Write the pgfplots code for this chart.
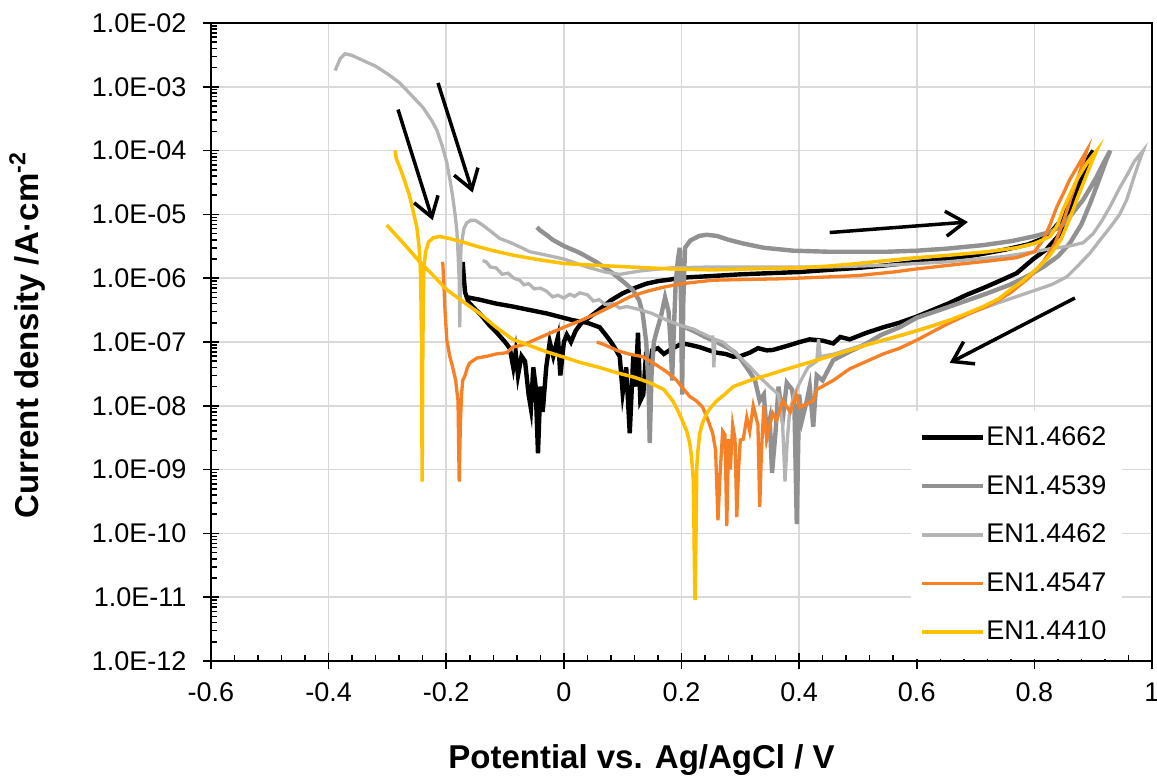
\documentclass[border=0pt]{standalone}
\usepackage{fontspec}
\setmainfont{Liberation Sans}
\usepackage{pgfplots}
\pgfplotsset{compat=1.18}
\usetikzlibrary{arrows.meta}
\definecolor{cdgray}{RGB}{145,145,145}
\definecolor{clgray}{RGB}{180,180,180}
\definecolor{corange}{RGB}{245,128,37}
\definecolor{cyellow}{RGB}{255,192,0}
\definecolor{cgrid}{RGB}{217,217,217}
\begin{document}
\begin{tikzpicture}
\begin{axis}[
  scale only axis, width=470.5pt, height=319pt,
  xmin=-0.6, xmax=1, ymode=log, ymin=1e-12, ymax=1e-2,
  xtick={-0.6,-0.4,-0.2,0,0.2,0.4,0.6,0.8,1},
  xticklabels={\mbox{-0.6},\mbox{-0.4},\mbox{-0.2},\mbox{0},\mbox{0.2},\mbox{0.4},\mbox{0.6},\mbox{0.8},\mbox{1}},
  ytick={1e-12,1e-11,1e-10,1e-9,1e-8,1e-7,1e-6,1e-5,1e-4,1e-3,1e-2},
  yticklabels={\mbox{1.0E-12},\mbox{1.0E-11},\mbox{1.0E-10},\mbox{1.0E-09},\mbox{1.0E-08},\mbox{1.0E-07},\mbox{1.0E-06},\mbox{1.0E-05},\mbox{1.0E-04},\mbox{1.0E-03},\mbox{1.0E-02}},
  minor x tick num=4,
  minor ytick={
   2e-12,3e-12,4e-12,5e-12,6e-12,7e-12,8e-12,9e-12,
   2e-11,3e-11,4e-11,5e-11,6e-11,7e-11,8e-11,9e-11,
   2e-10,3e-10,4e-10,5e-10,6e-10,7e-10,8e-10,9e-10,
   2e-9,3e-9,4e-9,5e-9,6e-9,7e-9,8e-9,9e-9,
   2e-8,3e-8,4e-8,5e-8,6e-8,7e-8,8e-8,9e-8,
   2e-7,3e-7,4e-7,5e-7,6e-7,7e-7,8e-7,9e-7,
   2e-6,3e-6,4e-6,5e-6,6e-6,7e-6,8e-6,9e-6,
   2e-5,3e-5,4e-5,5e-5,6e-5,7e-5,8e-5,9e-5,
   2e-4,3e-4,4e-4,5e-4,6e-4,7e-4,8e-4,9e-4,
   2e-3,3e-3,4e-3,5e-3,6e-3,7e-3,8e-3,9e-3},
  tick align=inside, tick pos=left,
  major tick length=4.2pt, minor tick length=3pt,
  extra x ticks={-0.6,-0.4,-0.2,0,0.2,0.4,0.6,0.8,1},
  extra x tick labels={},
  extra x tick style={tick align=outside, xmajorgrids=false, major tick length=4.2pt},
  extra y ticks={1e-12,1e-11,1e-10,1e-9,1e-8,1e-7,1e-6,1e-5,1e-4,1e-3,1e-2},
  extra y tick labels={},
  extra y tick style={tick align=outside, ymajorgrids=false, major tick length=4pt},
  xmajorgrids=true, ymajorgrids=true, xminorgrids=false, yminorgrids=false,
  major grid style={cgrid, line width=0.75pt},
  axis line style={line width=0.8pt},
  tick style={black, line width=0.75pt},
  tick label style={font=\fontsize{13.5}{16}\selectfont},
  yticklabel style={xshift=-8.8pt},
  xticklabel style={yshift=-7.5pt},
  xlabel={Potential vs. Ag/AgCl / V},
  xlabel style={font=\fontsize{16.5}{20}\selectfont\bfseries, at={(axis description cs:0.4575,0)}, anchor=base, yshift=-53.5pt},
  ylabel={Current density /A·cm\textsuperscript{-2}},
  ylabel style={font=\fontsize{16.5}{20}\selectfont\bfseries, at={(axis description cs:-0.1838,0.511)}, anchor=base, rotate=0},
  legend style={draw=none, fill=white, at={(rel axis cs:0.969,0.393)}, anchor=north east, font=\fontsize{13.5}{16}\selectfont, row sep=9.4pt, inner xsep=6pt, inner ysep=6pt},
  legend cell align=left,
  legend image code/.code={\path (0pt,0pt) -- (27.5pt,0pt); \draw[#1,overlay] (-1.5pt,0pt) -- (29pt,0pt);},
]
\coordinate (O) at (rel axis cs:0,0);

% EN1.4662 black
\addplot[black, line width=2.2pt] coordinates {
(-0.172,1.8e-6) (-0.170,1.0e-6) (-0.168,6.0e-7) (-0.162,4.2e-7) (-0.150,3.2e-7) (-0.140,2.6e-7)
(-0.128,1.9e-7) (-0.114,1.4e-7) (-0.100,1.0e-7) (-0.092,8.0e-8) (-0.086,4.0e-8) (-0.082,7.0e-8)
(-0.078,3.0e-8) (-0.072,6.0e-8) (-0.066,5.0e-8) (-0.060,1.5e-8) (-0.056,9.0e-9) (-0.052,4.0e-8)
(-0.048,2.0e-8) (-0.044,1.8e-9) (-0.040,2.0e-8) (-0.036,8.0e-9) (-0.030,4.0e-8) (-0.024,1.0e-7)
(-0.018,6.0e-8) (-0.010,1.2e-7) (-0.006,3.0e-8) (0.000,1.0e-7) (0.005,1.3e-7) (0.012,1.0e-7)
(0.020,1.5e-7) (0.030,2.0e-7) (0.045,2.5e-7) (0.060,3.2e-7) (0.080,4.5e-7) (0.100,5.8e-7)
(0.120,7.0e-7) (0.140,8.2e-7) (0.160,9.0e-7) (0.180,9.5e-7) (0.200,1.02e-6) (0.250,1.08e-6)
(0.300,1.15e-6) (0.350,1.2e-6) (0.400,1.25e-6) (0.450,1.35e-6) (0.500,1.45e-6) (0.550,1.6e-6)
(0.600,1.8e-6) (0.650,2.0e-6) (0.700,2.3e-6) (0.750,2.8e-6) (0.790,3.4e-6) (0.815,4.2e-6)
(0.830,5.5e-6) (0.845,8.0e-6) (0.860,1.6e-5) (0.872,2.8e-5) (0.883,5.0e-5) (0.893,8.0e-5)
(0.900,1.0e-4)
(0.895,8.0e-5) (0.885,4.5e-5) (0.870,2.0e-5) (0.855,8.0e-6) (0.840,4.5e-6) (0.820,2.8e-6)
(0.798,2.0e-6) (0.770,1.2e-6) (0.740,9.0e-7) (0.713,7.0e-7) (0.685,5.5e-7) (0.656,4.1e-7)
(0.628,3.2e-7) (0.600,2.5e-7) (0.570,2.0e-7) (0.543,1.7e-7) (0.515,1.4e-7) (0.486,1.1e-7)
(0.470,1.2e-7) (0.458,9.5e-8) (0.440,1.05e-7) (0.418,1.1e-7) (0.401,1.0e-7) (0.385,9.0e-8)
(0.372,8.3e-8) (0.355,7.5e-8) (0.345,7.4e-8) (0.330,8.0e-8) (0.316,6.8e-8) (0.300,6.0e-8)
(0.288,5.9e-8) (0.275,6.5e-8) (0.260,6.8e-8) (0.245,7.5e-8) (0.231,8.3e-8) (0.215,9.0e-8)
(0.202,9.5e-8) (0.185,8.0e-8) (0.170,6.5e-8) (0.160,8.0e-8) (0.150,7.4e-8) (0.145,3.0e-8)
(0.140,7.0e-8) (0.135,1.5e-8) (0.130,1.2e-8) (0.126,1.4e-7) (0.122,2.0e-8) (0.118,6.0e-8)
(0.112,3.7e-9) (0.106,4.0e-8) (0.100,1.6e-8) (0.095,5.9e-8) (0.087,8.0e-8) (0.078,1.07e-7)
(0.061,1.7e-7) (0.040,2.0e-7) (0.015,2.2e-7) (-0.029,2.8e-7) (-0.060,3.2e-7) (-0.087,3.6e-7)
(-0.115,4.0e-7) (-0.143,4.6e-7) (-0.168,5.1e-7)
};
\addlegendentry{EN1.4662}

% EN1.4539 dark gray
\addplot[cdgray, line width=2.2pt] coordinates {
(-0.046,6.3e-6) (-0.040,5.6e-6) (-0.030,4.8e-6) (-0.019,4.0e-6) (0.000,3.2e-6) (0.027,2.5e-6)
(0.055,1.8e-6) (0.083,1.2e-6) (0.100,9.0e-7) (0.117,6.6e-7) (0.128,4.5e-7) (0.134,2.8e-7)
(0.140,1.0e-7) (0.144,2.0e-8) (0.146,2.6e-9) (0.149,3.0e-8) (0.153,1.0e-7) (0.158,1.5e-7)
(0.165,2.5e-7) (0.172,5.0e-7) (0.178,3.0e-7) (0.182,8.0e-8) (0.184,2.5e-8) (0.187,1.5e-7)
(0.190,8.0e-7) (0.194,2.0e-6) (0.197,3.0e-6) (0.199,5.0e-7) (0.201,1.5e-8) (0.203,4.0e-7)
(0.206,3.0e-6) (0.215,3.9e-6) (0.230,4.6e-6) (0.243,4.8e-6) (0.260,4.6e-6) (0.280,4.0e-6)
(0.305,3.5e-6) (0.340,3.0e-6) (0.390,2.7e-6) (0.450,2.6e-6) (0.503,2.6e-6) (0.550,2.6e-6)
(0.600,2.7e-6) (0.650,2.9e-6) (0.713,3.3e-6) (0.760,3.8e-6) (0.798,4.5e-6) (0.827,5.3e-6)
(0.845,6.5e-6) (0.855,8.0e-6) (0.870,1.2e-5) (0.883,1.7e-5) (0.895,2.6e-5) (0.906,3.9e-5)
(0.918,6.5e-5) (0.929,1.0e-4)
(0.922,7.0e-5) (0.910,3.5e-5) (0.895,1.5e-5) (0.880,7.0e-6) (0.860,3.5e-6) (0.840,2.2e-6)
(0.815,1.5e-6) (0.790,1.1e-6) (0.760,8.0e-7) (0.720,5.8e-7) (0.680,4.3e-7) (0.640,3.2e-7)
(0.600,2.4e-7) (0.571,1.7e-7) (0.540,1.3e-7) (0.515,9.5e-8) (0.485,7.0e-8) (0.458,5.2e-8)
(0.440,2.5e-8) (0.430,3.0e-8) (0.424,4.7e-9) (0.418,2.0e-8) (0.413,1.2e-8) (0.405,6.0e-9)
(0.400,1.5e-8) (0.396,1.4e-10) (0.392,1.0e-8) (0.388,1.8e-8) (0.379,2.3e-8) (0.372,6.0e-9)
(0.365,2.0e-8) (0.360,4.0e-9) (0.354,8.9e-10) (0.350,6.0e-9) (0.345,3.7e-9) (0.340,1.5e-8)
(0.333,1.2e-8) (0.325,2.5e-8) (0.315,3.5e-8) (0.300,5.5e-8) (0.290,7.0e-8) (0.280,8.0e-8)
(0.260,1.0e-7) (0.240,1.2e-7) (0.220,1.5e-7) (0.200,1.8e-7)
};
\addlegendentry{EN1.4539}

% EN1.4462 light gray
\addplot[clgray, line width=1.65pt] coordinates {
(-0.389,1.8e-3) (-0.380,2.8e-3) (-0.372,3.3e-3) (-0.360,3.1e-3) (-0.342,2.6e-3) (-0.320,2.1e-3)
(-0.300,1.6e-3) (-0.279,1.15e-3) (-0.260,7.5e-4) (-0.240,4.8e-4) (-0.225,3.0e-4) (-0.216,2.1e-4)
(-0.207,1.2e-4) (-0.199,6.5e-5) (-0.193,3.2e-5) (-0.189,1.9e-5) (-0.185,1.0e-5) (-0.182,5.7e-6)
(-0.180,2.5e-6) (-0.178,9.3e-7) (-0.177,1.7e-7) (-0.176,8.0e-7) (-0.175,3.1e-6) (-0.170,6.0e-6)
(-0.165,7.4e-6) (-0.158,8.1e-6) (-0.151,8.1e-6) (-0.140,7.0e-6) (-0.125,5.5e-6) (-0.109,4.2e-6)
(-0.087,3.5e-6) (-0.058,2.6e-6) (-0.030,2.3e-6) (0.000,2.0e-6) (0.039,1.5e-6) (0.070,1.25e-6)
(0.095,1.15e-6) (0.130,1.3e-6) (0.180,1.45e-6) (0.250,1.5e-6) (0.350,1.5e-6) (0.450,1.5e-6)
(0.550,1.6e-6) (0.650,1.8e-6) (0.750,2.2e-6) (0.800,2.6e-6) (0.827,2.9e-6) (0.860,3.2e-6)
(0.883,3.6e-6) (0.900,5.0e-6) (0.915,8.0e-6) (0.930,1.4e-5) (0.945,2.6e-5) (0.958,4.2e-5)
(0.970,6.8e-5) (0.985,1.0e-4)
(0.980,7.5e-5) (0.970,4.0e-5) (0.957,1.7e-5) (0.945,1.0e-5) (0.929,6.3e-6) (0.912,4.0e-6)
(0.895,2.5e-6) (0.875,1.6e-6) (0.855,1.05e-6) (0.830,8.0e-7) (0.804,6.6e-7) (0.760,4.8e-7)
(0.713,3.4e-7) (0.656,2.2e-7) (0.600,1.5e-7) (0.550,1.1e-7) (0.500,8.5e-8) (0.460,6.5e-8)
(0.436,5.9e-8) (0.433,1.1e-7) (0.430,5.0e-8) (0.415,4.0e-8) (0.401,2.3e-8) (0.392,1.5e-8)
(0.384,8.5e-9) (0.380,3.0e-9) (0.376,6.5e-10) (0.372,5.0e-9) (0.365,1.5e-8) (0.350,2.0e-8)
(0.330,3.0e-8) (0.316,4.1e-8) (0.290,7.0e-8) (0.270,1.0e-7) (0.257,1.1e-7) (0.255,4.0e-8)
(0.253,1.2e-7) (0.248,1.2e-7) (0.220,1.6e-7) (0.200,1.8e-7) (0.175,2.2e-7) (0.150,2.8e-7)
(0.130,3.2e-7) (0.107,3.6e-7) (0.095,3.4e-7) (0.083,4.0e-7) (0.070,3.9e-7) (0.060,4.6e-7)
(0.050,4.4e-7) (0.040,5.5e-7) (0.027,5.9e-7) (0.018,5.2e-7) (0.010,5.6e-7) (0.000,4.9e-7)
(-0.010,5.4e-7) (-0.019,5.1e-7) (-0.030,6.3e-7) (-0.040,7.0e-7) (-0.050,6.8e-7) (-0.060,8.2e-7)
(-0.068,7.9e-7) (-0.075,9.3e-7) (-0.085,1.0e-6) (-0.095,1.2e-6) (-0.105,1.15e-6) (-0.115,1.45e-6)
(-0.125,1.5e-6) (-0.132,1.8e-6) (-0.138,1.9e-6)
};
\addlegendentry{EN1.4462}

% EN1.4547 orange
\addplot[corange, line width=1.65pt] coordinates {
(-0.206,1.8e-6) (-0.204,8.0e-7) (-0.202,3.0e-7) (-0.199,1.07e-7) (-0.194,6.0e-8) (-0.189,4.0e-8)
(-0.184,2.5e-8) (-0.180,1.2e-8) (-0.178,6.5e-10) (-0.176,5.0e-9) (-0.174,1.5e-8) (-0.172,2.5e-8)
(-0.168,3.0e-8) (-0.164,4.0e-8) (-0.160,4.7e-8) (-0.148,5.6e-8) (-0.130,6.0e-8) (-0.115,6.5e-8)
(-0.097,6.8e-8) (-0.087,8.3e-8) (-0.070,9.0e-8) (-0.058,1.0e-7) (-0.030,1.3e-7) (0.000,1.7e-7)
(0.030,2.2e-7) (0.056,2.8e-7) (0.085,3.8e-7) (0.112,5.1e-7) (0.140,6.2e-7) (0.168,7.2e-7)
(0.200,8.2e-7) (0.253,9.3e-7) (0.300,9.5e-7) (0.372,9.8e-7) (0.452,1.05e-6) (0.500,1.1e-6)
(0.560,1.25e-6) (0.600,1.4e-6) (0.656,1.6e-6) (0.720,1.85e-6) (0.770,2.1e-6) (0.800,2.6e-6)
(0.815,4.0e-6) (0.827,7.0e-6) (0.838,1.3e-5) (0.850,2.2e-5) (0.860,3.5e-5) (0.875,6.0e-5)
(0.889,1.0e-4)
(0.884,7.0e-5) (0.875,4.0e-5) (0.862,1.8e-5) (0.850,8.0e-6) (0.835,3.5e-6) (0.815,1.8e-6)
(0.790,1.0e-6) (0.760,6.0e-7) (0.740,4.6e-7) (0.719,3.6e-7) (0.690,2.8e-7) (0.656,2.0e-7)
(0.630,1.5e-7) (0.600,1.07e-7) (0.571,8.0e-8) (0.543,6.5e-8) (0.515,5.0e-8) (0.486,3.8e-8)
(0.458,2.5e-8) (0.430,1.8e-8) (0.424,1.2e-8) (0.401,9.5e-9) (0.395,1.5e-8) (0.385,8.0e-9)
(0.372,1.2e-8) (0.362,6.0e-9) (0.355,7.7e-9) (0.345,3.0e-9) (0.340,1.0e-8) (0.336,2.0e-9)
(0.333,2.6e-10) (0.330,5.0e-9) (0.322,1.0e-8) (0.316,4.0e-9) (0.311,6.6e-9) (0.305,3.0e-9)
(0.300,2.9e-9) (0.297,1.0e-9) (0.294,1.8e-10) (0.291,3.0e-9) (0.287,5.0e-9) (0.283,1.0e-9)
(0.280,3.0e-9) (0.277,1.3e-10) (0.274,3.5e-9) (0.270,4.0e-9) (0.266,1.0e-9) (0.262,1.6e-10)
(0.258,2.0e-9) (0.253,3.7e-9) (0.245,6.0e-9) (0.236,9.5e-9) (0.225,1.2e-8) (0.214,1.4e-8)
(0.200,2.0e-8) (0.192,2.5e-8) (0.175,3.4e-8) (0.155,4.5e-8) (0.134,5.9e-8) (0.110,6.5e-8)
(0.090,7.4e-8) (0.070,9.0e-8) (0.056,1.0e-7)
};
\addlegendentry{EN1.4547}

% EN1.4410 yellow
\addplot[cyellow, line width=1.75pt] coordinates {
(-0.287,1.0e-4) (-0.285,7.5e-5) (-0.279,5.5e-5) (-0.270,3.2e-5) (-0.262,1.9e-5) (-0.255,1.0e-5)
(-0.250,6.3e-6) (-0.246,3.0e-6) (-0.244,1.5e-6) (-0.243,5.0e-7) (-0.242,1.0e-7) (-0.2415,1.0e-8)
(-0.241,6.5e-10) (-0.240,5.0e-8) (-0.239,5.0e-7) (-0.238,1.5e-6) (-0.235,2.6e-6) (-0.230,3.7e-6)
(-0.222,4.3e-6) (-0.211,4.5e-6) (-0.195,4.2e-6) (-0.172,3.7e-6) (-0.150,3.2e-6) (-0.120,2.7e-6)
(-0.087,2.3e-6) (-0.050,2.0e-6) (0.000,1.7e-6) (0.050,1.6e-6) (0.112,1.5e-6) (0.180,1.4e-6)
(0.253,1.35e-6) (0.316,1.4e-6) (0.400,1.45e-6) (0.450,1.55e-6) (0.500,1.7e-6) (0.550,1.9e-6)
(0.600,2.1e-6) (0.656,2.3e-6) (0.720,2.6e-6) (0.770,3.0e-6) (0.800,3.5e-6) (0.827,4.5e-6)
(0.840,7.0e-6) (0.849,1.2e-5) (0.860,2.0e-5) (0.872,3.5e-5) (0.890,6.5e-5) (0.906,1.0e-4)
(0.900,7.5e-5) (0.888,4.0e-5) (0.875,2.0e-5) (0.860,8.5e-6) (0.845,4.0e-6) (0.825,2.2e-6)
(0.804,1.4e-6) (0.780,9.0e-7) (0.759,6.6e-7) (0.740,4.8e-7) (0.713,3.6e-7) (0.685,2.8e-7)
(0.656,2.2e-7) (0.628,1.8e-7) (0.600,1.5e-7) (0.570,1.25e-7) (0.543,1.07e-7) (0.515,9.0e-8)
(0.486,7.4e-8) (0.458,6.2e-8) (0.430,5.2e-8) (0.400,4.3e-8) (0.372,3.6e-8) (0.345,3.0e-8)
(0.316,2.5e-8) (0.300,2.2e-8) (0.288,2.0e-8) (0.273,1.5e-8) (0.260,1.2e-8) (0.250,9.5e-9)
(0.243,7.7e-9) (0.236,5.5e-9) (0.231,3.7e-9) (0.228,2.0e-9) (0.226,1.1e-9) (0.225,2.0e-10)
(0.224,3.0e-11) (0.223,9.0e-12) (0.222,3.0e-11) (0.221,2.0e-10) (0.220,7.0e-10) (0.217,1.6e-9)
(0.214,2.6e-9) (0.209,4.0e-9) (0.203,5.4e-9) (0.195,8.0e-9) (0.185,1.2e-8) (0.170,1.8e-8)
(0.146,2.3e-8) (0.120,2.8e-8) (0.090,3.3e-8) (0.060,4.0e-8) (0.027,4.8e-8) (0.000,5.8e-8)
(-0.029,7.0e-8) (-0.058,8.8e-8) (-0.087,1.1e-7) (-0.115,1.7e-7) (-0.143,2.8e-7) (-0.170,4.2e-7)
(-0.199,6.6e-7) (-0.222,1.1e-6) (-0.245,1.8e-6) (-0.270,3.3e-6) (-0.301,6.8e-6)
};
\addlegendentry{EN1.4410}

% arrows
\draw[line width=1.75pt, -{Straight Barb[length=9.5pt, width=12.5pt]}] (axis cs:-0.282,4.4e-4) -- (axis cs:-0.223,8.1e-6);
\draw[line width=1.75pt, -{Straight Barb[length=9.5pt, width=12.5pt]}] (axis cs:-0.214,1.15e-3) -- (axis cs:-0.155,2.2e-5);
\draw[line width=1.75pt, -{Straight Barb[length=9.5pt, width=12.5pt]}] (axis cs:0.452,5.2e-6) -- (axis cs:0.687,7.6e-6);
\draw[line width=1.75pt, -{Straight Barb[length=9.5pt, width=12.5pt]}] (axis cs:0.869,4.9e-7) -- (axis cs:0.656,4.7e-8);
\end{axis}
\pgfresetboundingbox
\path[use as bounding box] (O) ++(-105.5pt,-58.5pt) rectangle ++(578.5pt,389pt);
\end{tikzpicture}
\end{document}
